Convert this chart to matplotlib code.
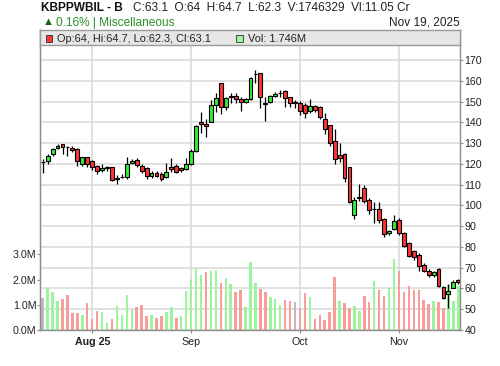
import matplotlib
matplotlib.use("Agg")
import matplotlib.pyplot as plt
from matplotlib.patches import Rectangle
from matplotlib.ticker import FuncFormatter
import numpy as np

# ----------------------------
# DATA
# ----------------------------
SYMBOL = "KBPPWBIL - B"
SECTOR = "Miscellaneous"
DATE_LABEL = "Nov 19, 2025"
LAST_VOLUME_SHARES = 1746329
LAST_VALUE_CR = 11.05

opens = [120.7, 121.4, 124.6, 127.5, 129.4, 128.3, 127.5, 127.0, 119.8, 123.4,
         121.4, 119.1, 117.0, 118.0, 118.3, 112.9, 113.7, 113.8, 120.3, 121.8,
         119.2, 117.8, 114.1, 115.7, 115.2, 113.5, 118.7, 119.2, 117.8, 117.4,
         119.9, 126.0, 140.2, 139.0, 140.3, 148.3, 158.8, 147.2, 152.4, 152.7,
         151.1, 149.8, 151.1, 163.2, 163.6, 149.2, 149.8, 152.7, 153.9, 155.1,
         152.0, 149.8, 149.3, 148.5, 145.6, 147.7, 147.2, 141.4, 138.6, 131.0,
         124.3, 124.7, 118.3, 95.2, 103.7, 108.2, 102.6, 98.5, 98.1, 93.3,
         86.5, 88.5, 93.0, 86.5, 81.7, 78.2, 76.3, 71.3, 68.4, 66.5,
         69.2, 60.9, 57.3, 60.4, 64.0]
highs = [122.2, 124.7, 127.5, 129.5, 129.6, 128.5, 128.6, 127.5, 123.5, 123.5,
         121.8, 119.4, 119.8, 119.1, 118.6, 114.6, 115.0, 123.5, 122.2, 122.6,
         119.8, 118.3, 116.6, 116.6, 115.9, 120.2, 122.7, 119.8, 118.5, 122.7,
         127.3, 138.6, 145.0, 141.4, 150.7, 154.0, 159.0, 152.0, 154.0, 154.0,
         152.3, 151.8, 161.7, 165.2, 163.6, 152.3, 153.2, 154.4, 155.6, 155.6,
         152.3, 150.9, 150.4, 149.1, 151.2, 148.3, 147.8, 144.3, 138.8, 136.6,
         129.9, 125.4, 118.5, 104.2, 110.3, 109.8, 103.7, 101.4, 101.6, 93.8,
         88.1, 95.4, 93.8, 87.3, 82.5, 78.5, 76.9, 72.1, 69.2, 68.6,
         69.7, 61.2, 62.1, 64.1, 64.7]
lows = [115.4, 120.1, 124.0, 127.1, 124.6, 123.6, 125.5, 119.0, 119.0, 118.3,
        117.0, 115.0, 116.3, 116.6, 111.9, 110.2, 113.0, 112.5, 119.8, 118.3,
        115.4, 112.7, 113.0, 113.5, 111.9, 113.0, 116.3, 115.4, 116.0, 117.0,
        119.5, 125.8, 134.7, 133.1, 140.0, 144.8, 143.9, 146.0, 149.5, 149.1,
        145.6, 149.1, 150.9, 158.8, 146.7, 140.8, 149.1, 152.0, 152.3, 147.5,
        147.5, 146.7, 143.7, 142.1, 144.5, 144.8, 141.6, 134.4, 128.8, 119.8,
        121.1, 111.4, 101.0, 93.3, 102.1, 101.0, 95.7, 91.4, 91.7, 84.6,
        85.7, 88.1, 85.7, 80.1, 75.3, 73.7, 68.6, 68.1, 65.7, 65.7,
        60.9, 54.9, 50.4, 60.1, 62.3]
closes = [120.7, 123.8, 127.1, 128.7, 128.0, 127.9, 126.5, 121.2, 123.2, 120.0,
          118.6, 116.6, 118.1, 118.3, 112.2, 113.0, 113.8, 119.8, 121.4, 119.4,
          116.6, 114.1, 115.4, 114.1, 112.7, 116.2, 117.4, 116.3, 116.8, 119.8,
          126.0, 138.1, 139.2, 138.1, 148.3, 151.6, 147.2, 151.5, 152.8, 151.1,
          149.8, 151.1, 161.2, 163.4, 152.0, 149.0, 152.7, 153.6, 154.1, 151.5,
          149.1, 149.1, 145.6, 144.5, 147.7, 146.0, 142.4, 137.0, 129.9, 122.2,
          122.7, 113.0, 101.5, 102.6, 103.9, 102.3, 97.9, 98.2, 93.2, 86.2,
          87.7, 92.5, 86.5, 80.6, 75.8, 75.0, 71.0, 68.6, 66.5, 68.1,
          61.2, 55.3, 58.9, 63.0, 63.1]
volumes_m = [1.28, 1.65, 1.5, 1.15, 1.23, 1.39, 0.69, 0.69, 0.6, 1.08,
             0.45, 0.77, 0.73, 0.29, 0.45, 0.95, 0.61, 1.4, 0.82, 0.92,
             1.0, 0.57, 0.6, 0.49, 0.57, 0.73, 0.92, 0.49, 0.57, 1.56,
             2.02, 2.47, 2.19, 2.31, 2.35, 2.38, 1.88, 2.07, 1.84, 1.52,
             1.6, 0.92, 2.68, 1.88, 1.62, 1.5, 1.31, 1.23, 0.99, 1.19,
             1.15, 1.11, 0.87, 1.47, 1.31, 0.44, 0.59, 0.4, 0.71, 2.1,
             1.15, 1.07, 0.87, 0.95, 0.75, 1.35, 1.11, 1.94, 1.59, 1.35,
             1.65, 2.81, 2.34, 1.5, 1.74, 1.6, 1.57, 1.18, 1.05, 1.14,
             1.1, 0.87, 1.8, 1.14, 1.746]

month_labels = ["Aug 25", "Sep", "Oct", "Nov"]
month_start_bar = [10, 30, 52, 72]
price_ticks = list(range(40, 171, 10))
volume_ticks = [0, 1, 2, 3]

# ----------------------------
# STYLE
# ----------------------------
W, H = 500, 366
FONT = ["Liberation Sans", "DejaVu Sans"]
CANDLE_UP = "#33ee33"
CANDLE_DOWN = "#ff3333"
VOL_UP = "#9cf59c"
VOL_DOWN = "#f99c9c"
VOL_FLAT = "#bbbbbb"
GRID = "#d9d9d9"
FRAME = "#8c8c8c"
PRICE_FLOOR = 40.0
PRICE_TOP = 184.3
PRICE_PER_M = 12.15  # price units taken by 1M shares on the shared axis

plt.rcParams["font.family"] = FONT


def vol_to_price(v):
    return np.asarray(v) * PRICE_PER_M + PRICE_FLOOR


def price_to_vol(p):
    return (np.asarray(p) - PRICE_FLOOR) / PRICE_PER_M


def px_box(left, top, right, bottom):
    return [left / W, 1 - bottom / H, (right - left) / W, (bottom - top) / H]


o = np.array(opens)
h = np.array(highs)
l = np.array(lows)
c = np.array(closes)
v = np.array(volumes_m)
x = np.arange(len(c))

fig = plt.figure(figsize=(W / 100, H / 100), dpi=100)
ax = fig.add_axes(px_box(40.3, 30.3, 460, 330))

# ----------------------------
# Volume bars (coloured by close vs previous close)
# ----------------------------
prev = np.r_[np.nan, c[:-1]]
vol_colors = np.where(c > prev, VOL_UP, np.where(c < prev, VOL_DOWN, VOL_FLAT))
ax.bar(x, vol_to_price(v) - PRICE_FLOOR, bottom=PRICE_FLOOR, width=0.5,
       color=vol_colors, linewidth=0, zorder=1)

# ----------------------------
# Candles
# ----------------------------
body_colors = np.where(c >= o, CANDLE_UP, CANDLE_DOWN)
ax.vlines(x, l, h, color="black", linewidth=0.9, zorder=2)
ax.bar(x, np.abs(c - o), bottom=np.minimum(o, c), width=0.78,
       color=body_colors, edgecolor="black", linewidth=0.8, zorder=3)

ax.set_xlim(-0.49, 84.34)
ax.set_ylim(PRICE_FLOOR, PRICE_TOP)
ax.set_axisbelow(True)
ax.grid(True, color=GRID, linewidth=1.1)

ax.set_xticks(month_start_bar, month_labels)
ax.get_xticklabels()[0].set_fontweight("bold")
ax.yaxis.tick_right()
ax.set_yticks(price_ticks)
ax.tick_params(axis="x", length=2.5, width=0.8, color=FRAME, pad=2.5,
               labelsize=7.7, labelcolor="#222222")
ax.tick_params(axis="y", length=2.2, width=0.8, color=FRAME, pad=1,
               labelsize=7.7, labelcolor="#222222")
for side in ["left", "right", "bottom"]:
    ax.spines[side].set_color(FRAME)
    ax.spines[side].set_linewidth(1.0)
ax.spines["top"].set_visible(False)

sec = ax.secondary_yaxis("left", functions=(price_to_vol, vol_to_price))
sec.set_yticks(volume_ticks)
sec.yaxis.set_major_formatter(FuncFormatter(lambda val, _: f"{val:.1f}M"))
sec.tick_params(length=2.2, width=0.8, color=FRAME, pad=0.5,
                labelsize=7.7, labelcolor="#222222")
sec.spines["left"].set_color(FRAME)

# ----------------------------
# Legend band
# ----------------------------
lax = fig.add_axes(px_box(40.3, 30.3, 460, 45))
lax.set_facecolor("#e6e6e6")
lax.set_xticks([])
lax.set_yticks([])
lax.set_xlim(0, 1)
lax.set_ylim(0, 1)
for sp in lax.spines.values():
    sp.set_color("#9a9a9a")
    sp.set_linewidth(1.0)
lax.add_patch(Rectangle((0.0129, 0.23), 0.0155, 0.48, facecolor=CANDLE_DOWN,
                        edgecolor="#333333", linewidth=0.6, transform=lax.transAxes))
lax.text(0.0405, 0.2, f"Op:{o[-1]:g}, Hi:{h[-1]:g}, Lo:{l[-1]:g}, Cl:{c[-1]:g}",
         fontsize=7.9, color="#222222", va="baseline", transform=lax.transAxes)
lax.add_patch(Rectangle((0.4663, 0.23), 0.0155, 0.48, facecolor=VOL_UP,
                        edgecolor="#333333", linewidth=0.6, transform=lax.transAxes))
lax.text(0.4956, 0.2, f"Vol: {v[-1]:.3f}M", fontsize=7.9, color="#222222",
         va="baseline", transform=lax.transAxes)

# ----------------------------
# Header
# ----------------------------
pct = (c[-1] / c[-2] - 1) * 100
fig.text(40.7 / W, 1 - 10.8 / H, SYMBOL, fontsize=8.6, fontweight="bold",
         color="#111111", va="baseline")
fig.text(133.3 / W, 1 - 10.8 / H,
         f"C:{c[-1]:g}  O:{o[-1]:g}  H:{h[-1]:g}  L:{l[-1]:g}  "
         f"V:{LAST_VOLUME_SHARES}  Vl:{LAST_VALUE_CR:.2f} Cr",
         fontsize=8.6, color="#222222", va="baseline")
fig.text(42.3 / W, 1 - 25.2 / H, "▲", fontsize=8, color="#116611", va="baseline")
fig.text(55.8 / W, 1 - 25.7 / H, f"{pct:.2f}% | {SECTOR}", fontsize=8.6,
         color="#2a8f2a", va="baseline")
fig.text(460 / W, 1 - 25.7 / H, DATE_LABEL, fontsize=8.6, color="#222222",
         ha="right", va="baseline")

fig.savefig("out.png", dpi=100)
